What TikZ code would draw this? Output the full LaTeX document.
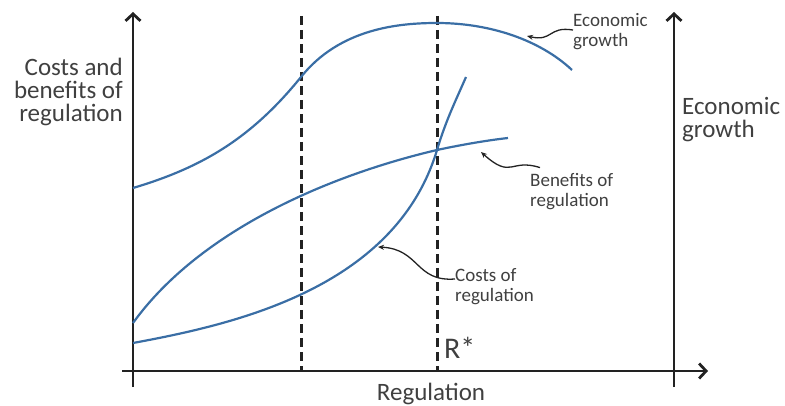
\documentclass[tikz,border=0pt]{standalone}
\usepackage{fontspec}
\setmainfont{Carlito}
\usetikzlibrary{arrows.meta}
\definecolor{curveblue}{RGB}{58,110,165}
\definecolor{textgray}{RGB}{64,64,64}
\definecolor{axisgray}{RGB}{34,34,34}
\begin{document}
\begin{tikzpicture}[x=1pt,y=-1pt,
    every node/.style={inner sep=0pt,text=textgray},
    axis/.style={line width=2.8pt,draw=axisgray,-{Straight Barb[length=7pt,width=15pt]}},
    guide/.style={line width=3pt,draw=axisgray,dash pattern=on 9pt off 5pt},
    curve/.style={line width=2.2pt,draw=curveblue},
    pointer/.style={line width=1.3pt,draw=axisgray,-{Stealth[length=6pt,width=5pt]}},
    biglabel/.style={font=\fontsize{25}{23}\selectfont,align=left},
    rightlabel/.style={font=\fontsize{25}{23}\selectfont,align=right},
    smalllabel/.style={font=\fontsize{19}{20}\selectfont,align=left}]
    \useasboundingbox (0,0) rectangle (785,406);
    %% axes
    \coordinate (xtail) at (122,371);
    \coordinate (xend) at (708,371);
    \coordinate (ltail) at (133,387);
    \coordinate (ltop) at (133,12);
    \coordinate (rtail) at (674,387);
    \coordinate (rtop) at (674,12);
    \draw[axis] (xtail) -- (xend);
    \draw[axis] (ltail) -- (ltop);
    \draw[axis] (rtail) -- (rtop);
    %% dashed guides
    \coordinate (gatop) at (301,16);
    \coordinate (gabot) at (301,371);
    \coordinate (gbtop) at (437,16);
    \coordinate (gbbot) at (437,371);
    \draw[guide] (gatop) -- (gabot);
    \draw[guide] (gbtop) -- (gbbot);
    %% curves
    \draw[curve] (133,188) .. controls (200,168) and (250,140) .. (301,77)
        .. controls (340,28) and (400,23) .. (437,23)
        .. controls (490,23) and (540,40) .. (572,70);
    \draw[curve] (133,323) .. controls (200,230) and (330,175) .. (437,150)
        .. controls (465,144) and (490,140) .. (508,138);
    \draw[curve] (133,343) .. controls (230,325) and (395,290) .. (437,150)
        .. controls (446,120) and (456,100) .. (466,77);
    %% axis labels
    \node[rightlabel,anchor=east] (ylabel) at (123,92) {Costs and\\benefits of\\regulation};
    \node[biglabel,anchor=west] (glabel) at (682,120) {Economic\\growth};
    \node[biglabel,anchor=base] (xlabel) at (431,400) {Regulation};
    \node[font=\fontsize{30}{30}\selectfont,anchor=base west] (rstar) at (444,358) {R*};
    %% curve labels
    \node[smalllabel,anchor=west] (growthtag) at (573,32) {Economic\\growth};
    \node[smalllabel,anchor=west] (benefittag) at (530,192) {Benefits of\\regulation};
    \node[smalllabel,anchor=west] (costtag) at (455,287) {Costs of\\regulation};
    \coordinate (growthpt) at (527,36);
    \coordinate (benefitpt) at (481,152);
    \coordinate (costpt) at (378,247);
    \draw[pointer] (growthtag.west |- 0,30) .. controls (548,26) and (553,42) .. (growthpt);
    \draw[pointer] (benefittag.north west) ++(10,-6) .. controls (510,158) and (512,180) .. (benefitpt);
    \draw[pointer] (costtag.west |- 0,279) .. controls (415,282) and (420,249) .. (costpt);
\end{tikzpicture}
\end{document}
